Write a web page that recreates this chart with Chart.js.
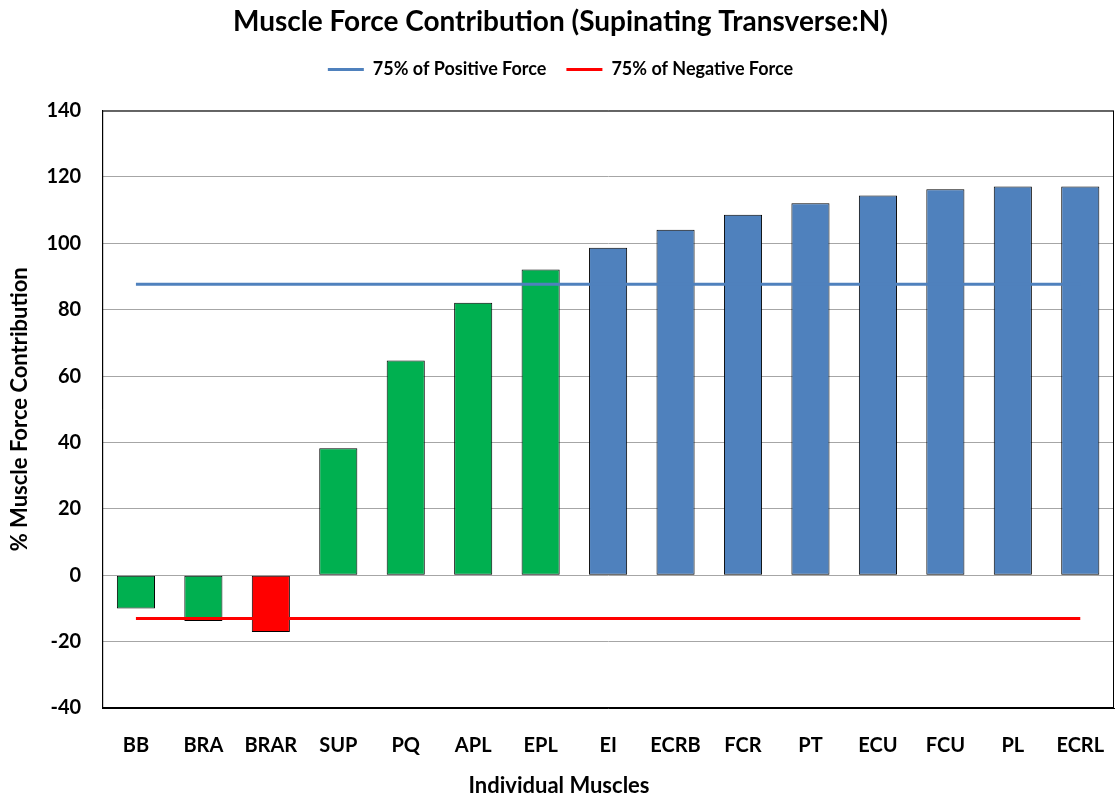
<!DOCTYPE html>
<html lang="en">
<head>
    <meta charset="UTF-8">
    <title>Muscle Force Contribution</title>
    <script src="https://cdn.jsdelivr.net/npm/chart.js"></script>
    <style>
        html, body { margin: 0; padding: 0; background: #fff; overflow: hidden; }
        .chart-container { width: 1118px; height: 799px; }
        canvas { display: block; }
    </style>
</head>
<body>
    <div class="chart-container">
        <canvas id="forceChart"></canvas>
    </div>

    <script>
        const muscles = ['BB', 'BRA', 'BRAR', 'SUP', 'PQ', 'APL', 'EPL', 'EI', 'ECRB', 'FCR', 'PT', 'ECU', 'FCU', 'PL', 'ECRL'];
        const contribution = [-10, -13.8, -17.1, 38.3, 64.7, 82.1, 92.1, 98.7, 104.1, 108.6, 112.1, 114.4, 116.3, 117.1, 117.1];
        const positiveLine = 87.7;   // 75% of positive force
        const negativeLine = -13;    // 75% of negative force
        const barGroup = ['g', 'g', 'r', 'g', 'g', 'g', 'g', 'b', 'b', 'b', 'b', 'b', 'b', 'b', 'b'];
        const xTitle = 'Individual Muscles';

        const groupColors = { g: '#00B050', r: '#FF0000', b: '#4F81BD' };
        const font = 'Lato';

        // outline round the plot area, like the excel frame
        const plotFrame = {
            id: 'plotFrame',
            afterDraw(chart) {
                const { ctx, chartArea: a } = chart;
                ctx.save();
                ctx.strokeStyle = '#000';
                ctx.lineWidth = 1;
                ctx.strokeRect(a.left + 0.5, a.top + 0.5, a.right - a.left - 1, a.bottom - a.top - 1);
                ctx.restore();
            }
        };

        // excel centres the x title on the whole chart, not on the plot
        const xTitlePlugin = {
            id: 'xTitle',
            afterDraw(chart) {
                const { ctx, width, height } = chart;
                ctx.save();
                ctx.fillStyle = '#000';
                ctx.font = 'bold 22px ' + font;
                ctx.textAlign = 'center';
                ctx.textBaseline = 'middle';
                ctx.fillText(xTitle, width / 2, height - 13);
                ctx.restore();
            }
        };

        // extra room between the legend and the plot
        const legendSpacer = {
            id: 'legendSpacer',
            beforeInit(chart) {
                const fit = chart.legend.fit;
                chart.legend.fit = function () {
                    fit.bind(chart.legend)();
                    this.height += 22;
                };
            }
        };

        const ctx = document.getElementById('forceChart').getContext('2d');
        new Chart(ctx, {
            data: {
                labels: muscles,
                datasets: [
                    {
                        type: 'line',
                        label: '75% of Positive Force',
                        data: muscles.map(() => positiveLine),
                        borderColor: '#4F81BD',
                        backgroundColor: '#4F81BD',
                        borderWidth: 3,
                        pointRadius: 0,
                        pointStyle: 'line',
                        order: 1
                    },
                    {
                        type: 'line',
                        label: '75% of Negative Force',
                        data: muscles.map(() => negativeLine),
                        borderColor: '#FF0000',
                        backgroundColor: '#FF0000',
                        borderWidth: 3,
                        pointRadius: 0,
                        pointStyle: 'line',
                        order: 1
                    },
                    {
                        type: 'bar',
                        label: 'Contribution',
                        data: contribution,
                        backgroundColor: barGroup.map(g => groupColors[g]),
                        borderColor: '#000',
                        borderWidth: 1,
                        borderSkipped: false,
                        barPercentage: 0.565,
                        categoryPercentage: 1,
                        order: 2
                    }
                ]
            },
            options: {
                responsive: true,
                maintainAspectRatio: false,
                animation: false,
                layout: { padding: { left: 7, right: 4, top: 5, bottom: 28 } },
                plugins: {
                    title: {
                        display: true,
                        text: 'Muscle Force Contribution (Supinating Transverse:N)',
                        color: '#000',
                        font: { family: font, size: 28, weight: 'bold' },
                        padding: { top: 0, bottom: 2 }
                    },
                    legend: {
                        position: 'top',
                        labels: {
                            filter: item => item.datasetIndex < 2,
                            usePointStyle: true,
                            pointStyleWidth: 36,
                            boxHeight: 14,
                            color: '#000',
                            font: { family: font, size: 18, weight: 'bold' },
                            padding: 20
                        }
                    },
                    tooltip: { enabled: false }
                },
                scales: {
                    x: {
                        grid: { display: false, drawTicks: true, tickLength: 13 },
                        border: { color: '#000' },
                        ticks: {
                            color: '#000',
                            padding: 13,
                            font: { family: font, size: 20, weight: 'bold' }
                        }
                    },
                    y: {
                        min: -40,
                        max: 140,
                        grid: { color: '#A6A6A6', drawTicks: false },
                        border: { color: '#000' },
                        ticks: {
                            stepSize: 20,
                            color: '#000',
                            padding: 21,
                            font: { family: font, size: 20, weight: 'bold' }
                        },
                        title: {
                            display: true,
                            text: '% Muscle Force Contribution',
                            color: '#000',
                            font: { family: font, size: 22, weight: 'bold' },
                            padding: { top: 0, bottom: -8 }
                        }
                    }
                }
            },
            plugins: [plotFrame, legendSpacer, xTitlePlugin]
        });
    </script>
</body>
</html>
